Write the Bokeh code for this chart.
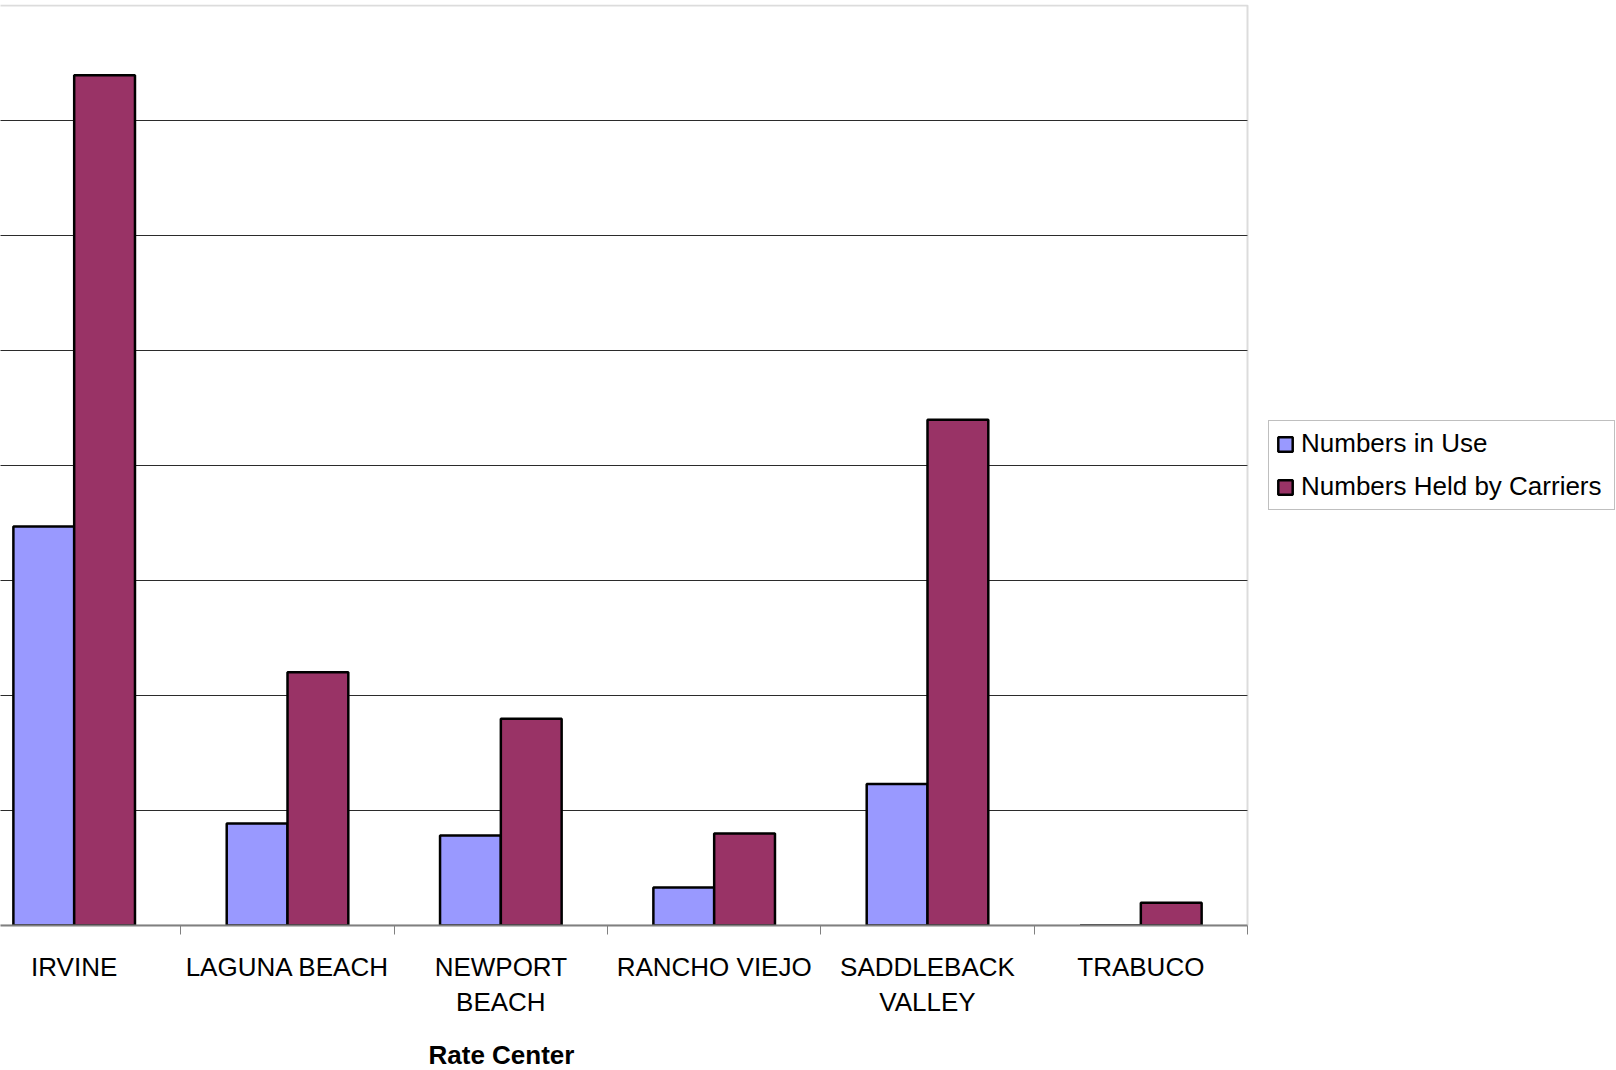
from bokeh.plotting import figure
from bokeh.models import (ColumnDataSource, FixedTicker, LinearAxis, Legend,
                          LegendItem, Range1d, BoxAnnotation, Title)
from bokeh.embed import file_html
from bokeh.resources import INLINE

# Rate centers and their number counts
categories = ["IRVINE", "LAGUNA BEACH", "NEWPORT BEACH", "RANCHO VIEJO",
              "SADDLEBACK VALLEY", "TRABUCO"]
tick_labels = ["IRVINE", "LAGUNA BEACH", "NEWPORT\nBEACH", "RANCHO VIEJO",
               "SADDLEBACK\nVALLEY", "TRABUCO"]
numbers_in_use = [34700, 8870, 7830, 3300, 12300, 0]
numbers_held = [73940, 22030, 17970, 8000, 43980, 1970]

FONT = "Liberation Sans"
USE_COLOR = "#9999FF"
HELD_COLOR = "#993366"

W, H = 1616, 1070
n = len(categories)
centers = [i + 0.5 for i in range(n)]
bar_w = 0.285

# plot area runs from slightly inside the first slot to the last slot edge;
# the space to its right holds the legend
x_start = 0.1546
area_px = 1247
x_end = x_start + (n - x_start) * W / area_px
y_max = 80000

src_use = ColumnDataSource(dict(x=[c - bar_w / 2 for c in centers], top=numbers_in_use))
src_held = ColumnDataSource(dict(x=[c + bar_w / 2 for c in centers], top=numbers_held))

p = figure(width=W, height=H, output_backend="svg", toolbar_location=None,
           x_range=Range1d(x_start, x_end), y_range=Range1d(0, y_max * 921 / 920),
           x_axis_location=None, y_axis_location=None,
           min_border_left=0, min_border_top=4, min_border_right=0,
           min_border_bottom=145)
p.outline_line_color = None
p.background_fill_color = "white"
p.border_fill_color = "white"

# horizontal gridlines, limited to the plot area
p.ygrid.ticker = FixedTicker(ticks=list(range(10000, y_max, 10000)))
p.ygrid.grid_line_color = "#2b2b2b"
p.ygrid.grid_line_width = 1
p.ygrid.cross_bounds = (x_start - 1, n)
p.xgrid.visible = False

# plot-area border (top and right visible)
p.add_layout(BoxAnnotation(left=-1, right=n, bottom=0, top=y_max,
                           fill_color=None, line_color="#8c8c8c", line_width=2,
                           level="underlay"))

r_use = p.vbar(x="x", top="top", width=bar_w, bottom=0, source=src_use,
               fill_color=USE_COLOR, line_color="black", line_width=2.5)
r_held = p.vbar(x="x", top="top", width=bar_w, bottom=0, source=src_held,
                fill_color=HELD_COLOR, line_color="black", line_width=2.5)

# category axis: labels at slot centres, tick marks at slot edges
xaxis = LinearAxis(
    ticker=FixedTicker(ticks=centers, minor_ticks=list(range(0, n + 1))),
    major_label_overrides={c: lab for c, lab in zip(centers, tick_labels)},
    bounds=(0, n),
    axis_label=" ",  # blank label keeps a gap above the axis title
)
xaxis.axis_line_color = "#808080"
xaxis.axis_line_width = 2
xaxis.major_tick_line_color = None
xaxis.major_tick_out = 0
xaxis.major_tick_in = 0
xaxis.minor_tick_line_color = "#808080"
xaxis.minor_tick_line_width = 1
xaxis.minor_tick_out = 9
xaxis.minor_tick_in = 0
xaxis.major_label_standoff = 17
xaxis.major_label_text_font = FONT
xaxis.major_label_text_font_size = "26px"
xaxis.major_label_text_color = "black"
xaxis.major_label_text_line_height = 1.18
xaxis.axis_label_text_font = FONT
xaxis.axis_label_text_font_size = "12px"
xaxis.axis_label_standoff = 1
p.add_layout(xaxis, "below")

# axis title, centred under the NEWPORT BEACH slot
p.add_layout(Title(text="Rate Center", align="left", offset=428,
                   text_font=FONT, text_font_size="26px", text_font_style="bold",
                   text_color="black", standoff=1), "below")

legend = Legend(
    items=[LegendItem(label="Numbers in Use", renderers=[r_use]),
           LegendItem(label="Numbers Held by Carriers", renderers=[r_held])],
    location=(1268, 415),
    orientation="vertical",
    label_text_font=FONT,
    label_text_font_size="26px",
    label_text_color="black",
    glyph_width=18, glyph_height=18,
    label_standoff=7,
    label_height=30,
    label_width=306,
    spacing=12,
    padding=7,
    margin=0,
    border_line_color="#808080",
    border_line_width=1,
    background_fill_color="white",
    background_fill_alpha=1,
)
p.add_layout(legend)

open("out.html", "w").write(file_html(p, INLINE))
